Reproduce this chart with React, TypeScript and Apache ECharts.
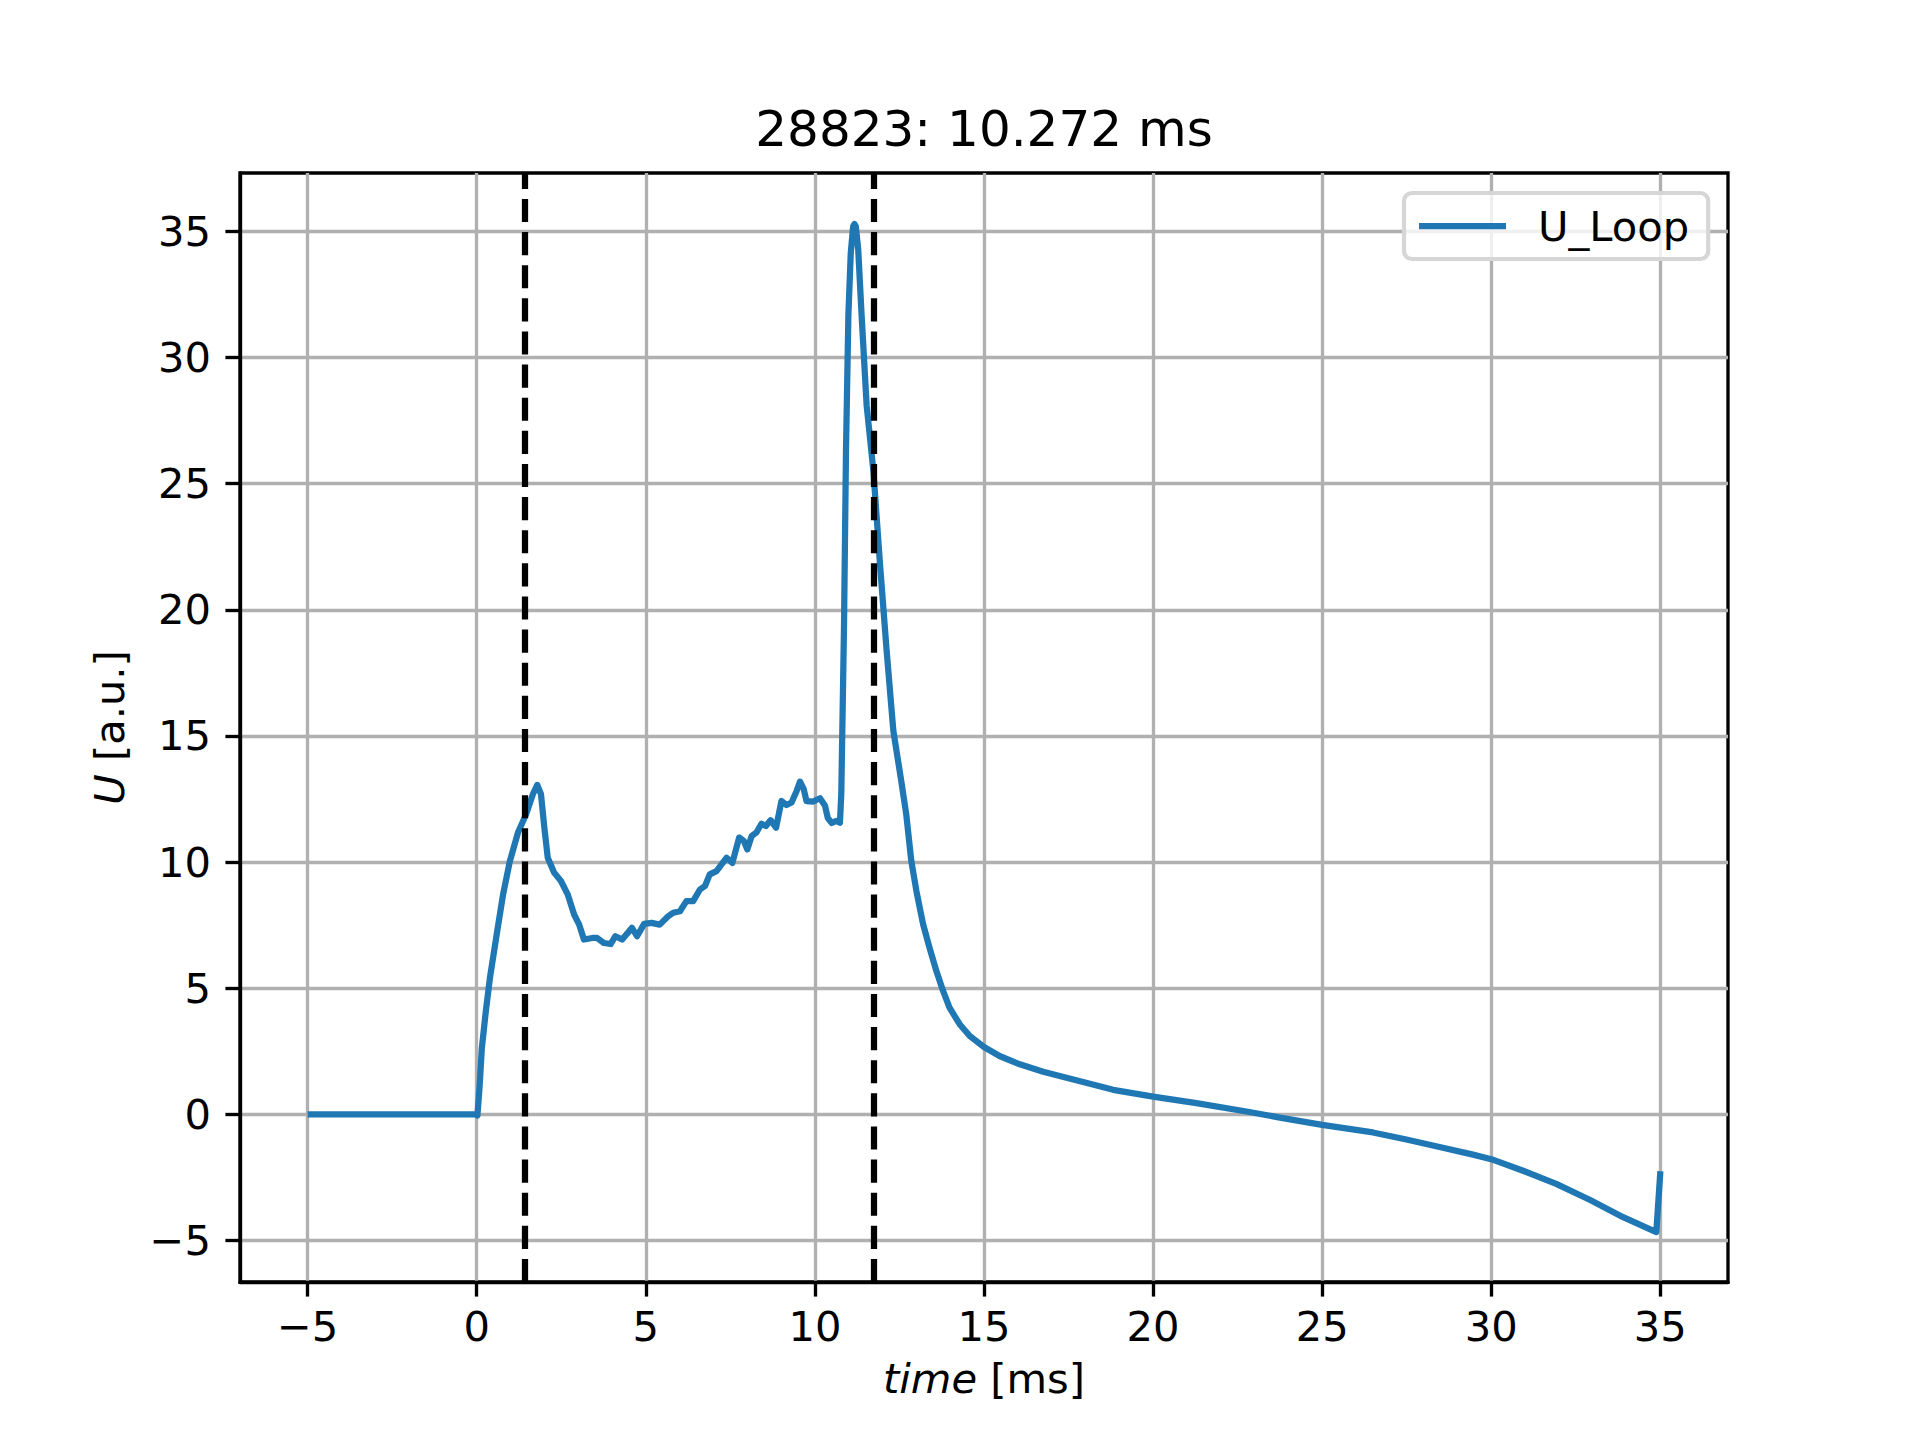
import React, { useEffect, useRef } from 'react';
import * as echarts from 'echarts';

// U_Loop trace
const timeMs = [
  -5.0, -2.5, -0.05, 0.02, 0.08, 0.15, 0.27, 0.39, 0.59, 0.78, 0.98, 1.22, 1.46, 1.66, 1.79, 1.9,
  2.0, 2.1, 2.29, 2.49, 2.69, 2.88, 3.03, 3.17, 3.42, 3.56, 3.76, 3.96, 4.1, 4.3, 4.59, 4.74,
  4.95, 5.17, 5.41, 5.66, 5.81, 6.01, 6.2, 6.4, 6.6, 6.75, 6.89, 7.09, 7.24, 7.39, 7.56, 7.76,
  7.9, 8.0, 8.13, 8.27, 8.42, 8.55, 8.69, 8.85, 9.01, 9.16, 9.31, 9.46, 9.56, 9.67, 9.75, 9.95,
  10.15, 10.3, 10.38, 10.5, 10.64, 10.74, 10.78, 10.82, 10.86, 10.92, 10.99, 11.06, 11.13, 11.17,
  11.21, 11.28, 11.38, 11.53, 11.73, 11.92, 12.12, 12.32, 12.55, 12.7, 12.85, 13.0, 13.2, 13.39,
  13.59, 13.79, 13.98, 14.28, 14.58, 15.0, 15.46, 16.06, 16.75, 17.44, 18.13, 18.82, 20.0, 21.28,
  22.76, 23.75, 25.0, 26.5, 27.49, 28.47, 29.46, 30.0, 30.94, 31.92, 32.91, 33.9, 34.88, 35.0,
];
const uLoop = [
  0.0, 0.0, 0.0, -0.05, 1.0, 2.6, 4.1, 5.4, 7.13, 8.72, 10.04, 11.17, 11.9, 12.69, 13.06, 12.69,
  11.36, 10.17, 9.58, 9.25, 8.72, 7.92, 7.52, 6.93, 6.99, 6.99, 6.79, 6.75, 7.06, 6.93, 7.39, 7.06,
  7.55, 7.59, 7.52, 7.85, 7.99, 8.05, 8.45, 8.45, 8.91, 9.05, 9.51, 9.64, 9.91, 10.17, 9.97, 10.97,
  10.83, 10.5, 11.03, 11.17, 11.52, 11.43, 11.66, 11.36, 12.42, 12.26, 12.36, 12.82, 13.19, 12.89, 12.42, 12.4,
  12.53, 12.23, 11.75, 11.55, 11.63, 11.56, 12.7, 16.0, 19.3, 26.4, 31.7, 34.15, 35.2, 35.3,
  35.2, 34.3, 31.7, 28.1, 25.5, 21.9, 18.4, 15.2, 13.24, 11.9, 10.05, 8.86, 7.53, 6.6,
  5.69, 4.89, 4.23, 3.57, 3.1, 2.67, 2.31, 1.98, 1.69, 1.45, 1.21, 0.97, 0.7, 0.44,
  0.11, -0.13, -0.42, -0.72, -1.0, -1.3, -1.6, -1.78, -2.24, -2.76, -3.39, -4.08, -4.67, -2.26,
];
const markerTimes = [1.43, 11.73];
const xTicks = [-5, 0, 5, 10, 15, 20, 25, 30, 35];
const yTicks = [-5, 0, 5, 10, 15, 20, 25, 30, 35];

const FONT = '"DejaVu Sans", Verdana, sans-serif';
const LW = 300 / 72; // px per pt at 300 dpi

const minus = (v: number) => String(v).replace('-', '\u2212');

const App: React.FC = () => {
  const chartRef = useRef<HTMLDivElement>(null);

  useEffect(() => {
    document.body.style.margin = '0';
    if (!chartRef.current) return;
    const chart = echarts.init(chartRef.current, undefined, { renderer: 'svg' });

    const tickLabel = { fontSize: 10 * LW, fontFamily: FONT, color: '#000' };
    const spine = { show: true, onZero: false, lineStyle: { color: '#000', width: 0.8 * LW } };

    chart.setOption({
      animation: false,
      backgroundColor: '#fff',
      grid: {
        left: 240,
        top: 173,
        width: 1488,
        height: 1109,
        show: true,
        borderColor: '#000',
        borderWidth: 0.8 * LW,
        backgroundColor: 'transparent',
      },
      graphic: [
        {
          type: 'text',
          x: 984,
          y: 129,
          style: {
            text: '28823: 10.272 ms',
            fontSize: 12 * LW,
            fontFamily: FONT,
            fill: '#000',
            align: 'center',
            verticalAlign: 'middle',
          },
        },
      ],
      legend: {
        data: ['U_Loop'],
        left: 1404,
        top: 193,
        icon: 'rect',
        itemWidth: 87,
        itemHeight: 1.5 * LW,
        padding: [12, 19, 12, 15],
        backgroundColor: 'rgba(255,255,255,0.8)',
        borderColor: '#d6d6d6',
        borderWidth: LW,
        borderRadius: 8,
        textStyle: { ...tickLabel, padding: [0, 0, 0, 27] },
      },
      xAxis: {
        type: 'value',
        min: -7,
        max: 37,
        name: '{i|time} [ms]',
        nameLocation: 'middle',
        nameGap: 75,
        nameTextStyle: {
          ...tickLabel,
          rich: { i: { ...tickLabel, fontStyle: 'italic' } },
        },
        axisLine: spine,
        axisTick: {
          show: true,
          length: 3.5 * LW,
          lineStyle: { color: '#000', width: 0.8 * LW },
          customValues: xTicks,
        },
        axisLabel: { ...tickLabel, margin: 23, customValues: xTicks, formatter: minus },
        splitLine: { show: true, lineStyle: { color: '#b0b0b0', width: 0.8 * LW } },
      },
      yAxis: {
        type: 'value',
        min: -6.65,
        max: 37.32,
        name: '{i|U} [a.u.]',
        nameLocation: 'middle',
        nameGap: 110,
        nameTextStyle: {
          ...tickLabel,
          rich: { i: { ...tickLabel, fontStyle: 'italic' } },
        },
        axisLine: spine,
        axisTick: {
          show: true,
          length: 3.5 * LW,
          lineStyle: { color: '#000', width: 0.8 * LW },
          customValues: yTicks,
        },
        axisLabel: { ...tickLabel, margin: 29, customValues: yTicks, formatter: minus },
        splitLine: { show: true, lineStyle: { color: '#b0b0b0', width: 0.8 * LW } },
      },
      series: [
        {
          name: 'U_Loop',
          type: 'line',
          data: timeMs.map((t, i) => [t, uLoop[i]]),
          showSymbol: false,
          silent: true,
          lineStyle: { color: '#1f77b4', width: 1.5 * LW, join: 'round' },
          itemStyle: { color: '#1f77b4' },
          markLine: {
            silent: true,
            symbol: ['none', 'none'],
            label: { show: false },
            lineStyle: { color: '#000', width: 1.5 * LW, type: [3.7 * 1.5 * LW, 1.6 * 1.5 * LW] },
            emphasis: { disabled: true },
            data: markerTimes.map((t) => ({ xAxis: t })),
          },
        },
      ],
    });

    return () => {
      chart.dispose();
    };
  }, []);

  return <div ref={chartRef} style={{ width: '1920px', height: '1440px' }} />;
};

export default App;
